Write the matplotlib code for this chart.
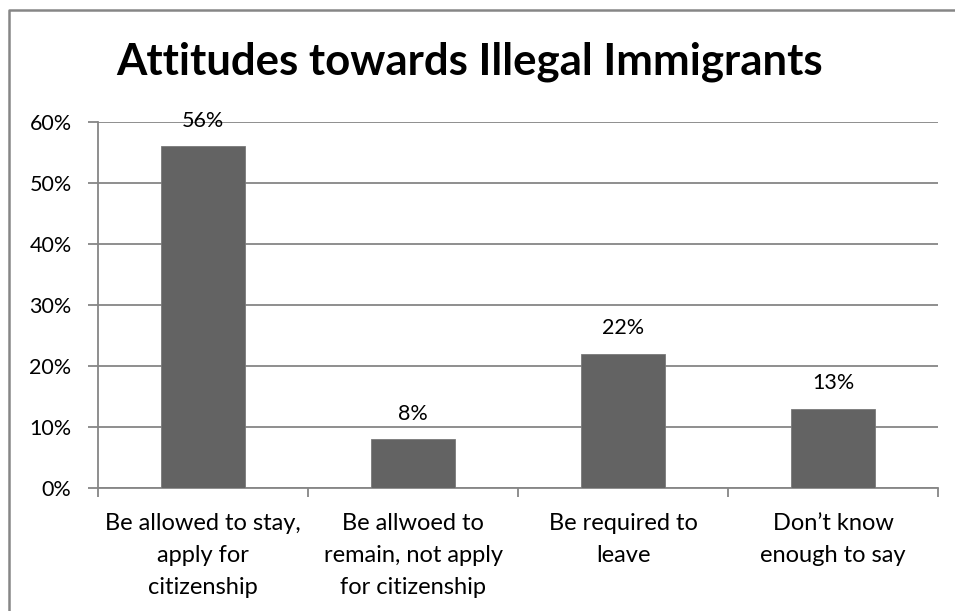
import matplotlib
matplotlib.use('Agg')
import matplotlib.pyplot as plt
from matplotlib.lines import Line2D
from matplotlib.ticker import FuncFormatter, FixedLocator

categories = ['Be allowed to stay,\napply for\ncitizenship',
              'Be allwoed to\nremain, not apply\nfor citizenship',
              'Be required to\nleave',
              'Don\u2019t know\nenough to say']
values = [56, 8, 22, 13]
y_ticks = [0, 10, 20, 30, 40, 50, 60]

plt.rcParams['font.family'] = ['Lato', 'DejaVu Sans']
grid_col = '#868686'
bar_col = '#636363'

W, H = 955, 611
fig = plt.figure(figsize=(W / 100, H / 100), dpi=100)
ax = fig.add_axes([98 / W, 1 - 488 / H, (938 - 98) / W, (488 - 122) / H])

x = list(range(len(values)))
ax.bar(x, values, width=0.4, color=bar_col, edgecolor='#7a7a7a', linewidth=0.6, zorder=3)
for xi, v in zip(x, values):
    ax.text(xi, v + 4.2, f'{v}%', ha='center', va='center', fontsize=15.5, color='black')

ax.set_xlim(-0.5, len(values) - 0.5)
ax.set_ylim(0, 60)
ax.set_yticks(y_ticks)
ax.yaxis.set_major_formatter(FuncFormatter(lambda v, p: f'{v:.0f}%'))
ax.yaxis.grid(True, color=grid_col, linewidth=1.3, zorder=0)
ax.set_axisbelow(True)

# category labels sit between the boundary ticks
ax.xaxis.set_major_locator(FixedLocator([i - 0.5 for i in range(len(values) + 1)]))
ax.set_xticklabels([])
ax.set_xticks(x, minor=True)
ax.set_xticklabels(categories, minor=True, fontsize=17, linespacing=1.65)
ax.tick_params(axis='x', which='minor', length=0, pad=18)
ax.tick_params(axis='x', which='major', length=6.5, color=grid_col, width=1.3)
ax.tick_params(axis='y', length=7, color=grid_col, width=1.3, labelsize=15.5, pad=12)

for side in ['top', 'right']:
    ax.spines[side].set_visible(False)
for side in ['left', 'bottom']:
    ax.spines[side].set_color(grid_col)
    ax.spines[side].set_linewidth(1.3)

fig.text(470 / W, 1 - 62 / H, 'Attitudes towards Illegal Immigrants',
         ha='center', va='center', fontsize=31.5, fontweight='bold')

# chart frame: only left and top edges fall inside the picture
fig.lines.append(Line2D([8.5 / W, 8.5 / W, 1], [0, 1 - 9.5 / H, 1 - 9.5 / H],
                        transform=fig.transFigure, color=grid_col, linewidth=1.8))

fig.savefig('out.png', dpi=100)
